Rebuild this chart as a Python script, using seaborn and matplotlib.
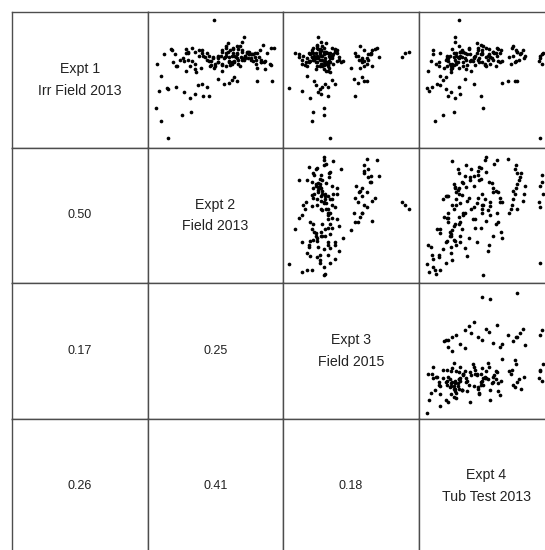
import numpy as np
import pandas as pd
import matplotlib
matplotlib.use("Agg")
import matplotlib.pyplot as plt
import seaborn as sns

# diagonal labels
labels = ["Expt 1\nIrr Field 2013", "Expt 2\nField 2013",
          "Expt 3\nField 2015", "Expt 4\nTub Test 2013"]

# values (scaled to 0-100 of each panel's range)
expt1 = [7, 20, 24, 26, 29, 44, 43, 45, 41, 37, 38, 38, 46, 47, 45, 51, 47, 48, 50, 52,
         49, 49, 49, 53, 40, 42,
         62, 67, 60, 63, 64, 58, 70, 66, 72, 61, 59, 68, 57, 65, 71, 63, 60, 69,
         64, 60, 66, 70, 62, 68, 73, 59, 65, 71, 67, 63, 58, 72, 66, 61, 69, 74, 57, 64,
         68, 62, 70, 75, 60, 65, 67, 63, 71, 56, 69, 64, 78, 82, 94, 66, 62, 70, 68, 73,
         59, 65, 71, 60, 67,
         66, 70, 63, 72, 68, 61, 74, 65, 69, 62, 71, 67, 75, 60, 64, 73, 66, 70, 63, 68,
         72, 65, 69, 74, 61, 67, 71, 64, 76, 62, 70, 66, 68, 73, 77, 63, 69, 72, 65, 74,
         60, 67, 70,
         62, 68, 72, 65, 70, 74, 66, 63, 71, 67, 75, 69, 64, 72, 68,
         64, 68, 62, 70, 66, 69, 65, 63,
         70, 67, 71]
expt2 = [15, 10, 25, 32, 6, 14, 15, 21, 27, 31, 41, 45, 37, 40, 44, 52, 56, 60, 62, 64,
         66, 81, 92, 10, 35, 8,
         7, 48, 21, 62, 27, 35, 40, 70, 18, 55, 49, 64, 28, 30, 75, 19, 58, 12,
         64, 22, 48, 73, 35, 58, 17, 81, 44, 30, 69, 52, 87, 40, 26, 61, 76, 33, 55, 47,
         38, 90, 28, 66, 50, 71, 42, 84, 59, 36, 20, 78, 70, 71, 49, 52, 67, 79, 45, 63,
         39, 84, 74, 31, 65,
         72, 30, 86, 55, 41, 91, 63, 24, 77, 50, 35, 82, 58, 68, 45, 28, 74, 88, 60, 52,
         38, 80, 66, 93, 47, 57, 70, 33, 85, 62, 44, 76, 54, 67, 59, 52, 75, 83, 67, 91,
         46, 79, 63,
         55, 62, 70, 76, 81, 58, 66, 84, 73, 52, 68, 78, 87, 61, 72,
         60, 72, 80, 66, 56, 75, 70, 64,
         58, 60, 55]
expt3 = [35, 21, 30, 22, 30, 4, 27, 33, 26, 20, 33, 53, 24, 31, 29, 52, 38, 55, 36, 58,
         23, 60, 62, 18, 28, 14,
         31, 12, 27, 35, 19, 24, 9, 22, 38, 16, 57, 28, 33, 14, 21, 25, 60, 30,
         31, 18, 36, 24, 29, 15, 27, 34, 22, 38, 26, 33, 30, 21, 35, 28, 12, 25, 32, 40,
         23, 37, 19, 29, 33, 27, 41, 24, 30, 35, 20, 34, 28, 26, np.nan, 58, 62, 65, 55, 68,
         50, 63, 32, 25, 21,
         24, 33, 19, 28, 36, 30, 22, 41, 27, 14, 31, 35, 25, 29, 20, 38, 26, 32, 17, 34,
         28, 23, 37, 30, 33, 21, 27, 44, 25, 31, 35, 18, 29, 26, 32, 58, 64, 60, 56, 69,
         66, 71, 53,
         33, 25, 40, 29, 22, 36, 31, 43, 27, 35, 57, 63, 60, 66, 54,
         30, 36, 28, 40, 62, 65, 58, 33,
         90, 88, 93]
expt4 = [90, 12, 18, 26, 48, 6, 20, 10, 24, 27, 46, 22, 16, 14, 30, 34, 41, 62, 18, 20,
         71, 73, 66, 16, 31, 8,
         13, 22, 15, 28, 9, 24, 16, 30, 11, 26, 19, 21, 7, 20, 32, 15, 25, 11,
         22, 24, 21, 26, 23, 28, 25, 30, 27, 31, 29, 33, 35, 32, 34, 36, 38, 37, 39, 40,
         23, 25, 28, 30, 33, 35, 26, 29, 31, 24, 36, 38, 27, 27, 30, 22, 28, 34, 31, 37,
         25, 39, 33, 21, 32,
         41, 43, 45, 47, 42, 49, 44, 51, 46, 53, 55, 50, 48, 57, 59, 52, 54, 56, 60, 58,
         61, 44, 47, 50, 42, 53, 55, 62, 46, 49, 57, 45, 51, 59, 43, 47, 52, 44, 55, 58,
         50, 41, 60,
         68, 70, 72, 74, 76, 69, 78, 71, 73, 67, 70, 75, 72, 77, 79,
         89, 90, 91, 92, 90, 91, 96, 98,
         47, 53, 73]

# correlations printed in the lower panels (row, col)
corr_cells = [(1, 0), (2, 0), (3, 0), (2, 1), (3, 1), (3, 2)]
corr_text = ["0.50", "0.17", "0.26", "0.25", "0.41", "0.18"]

df = pd.DataFrame({"e1": expt1, "e2": expt2, "e3": expt3, "e4": expt4})
cols = ["e1", "e2", "e3", "e4"]

sns.set_style("white")
plt.rcParams["font.family"] = ["Liberation Sans", "DejaVu Sans"]

W, H = 545, 550
x0, y0, step = 12.3, 12.3, 135.4

fig = plt.figure(figsize=(W / 100, H / 100), dpi=100)
axes = {}
for r in range(4):
    for c in range(4):
        left = (x0 + c * step) / W
        bottom = (H - (y0 + (r + 1) * step)) / H
        ax = fig.add_axes([left, bottom, step / W, step / H])
        ax.set_xlim(0, 100)
        ax.set_ylim(0, 100)
        ax.set_xticks([])
        ax.set_yticks([])
        for sp in ax.spines.values():
            sp.set_color("#4d4d4d")
            sp.set_linewidth(1.0)
        axes[(r, c)] = ax

        if r == c:
            ax.text(0.5, 0.5, labels[r], ha="center", va="center",
                    transform=ax.transAxes, fontsize=10.2, color="#222222",
                    linespacing=1.7)
        elif c > r:
            sns.scatterplot(data=df, x=cols[c], y=cols[r], ax=ax, color="black",
                            s=7, linewidth=0, legend=False)
            ax.set_xlabel("")
            ax.set_ylabel("")
            ax.set_xlim(0, 100)
            ax.set_ylim(0, 100)

for (r, c), t in zip(corr_cells, corr_text):
    axes[(r, c)].text(0.5, 0.5, t, ha="center", va="center",
                      transform=axes[(r, c)].transAxes, fontsize=9,
                      color="#222222")

fig.savefig("out.png", dpi=100)
